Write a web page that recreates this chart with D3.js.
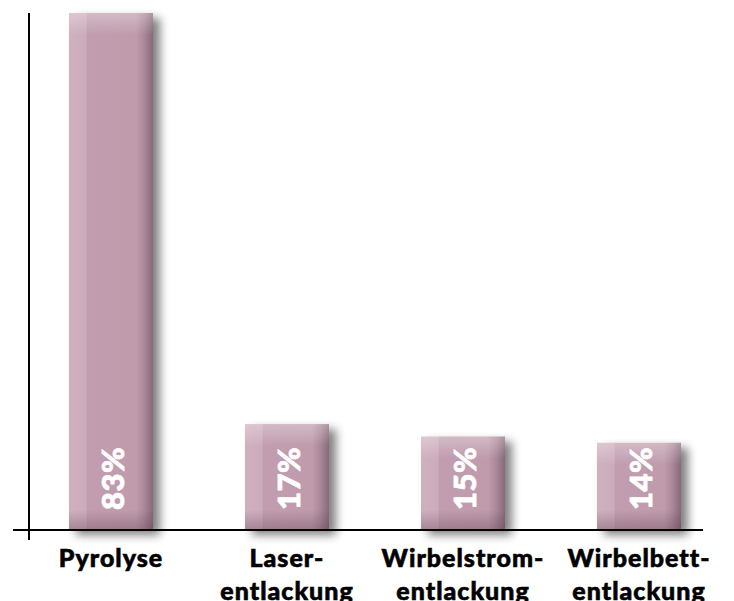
<!DOCTYPE html>
<html><head><meta charset="utf-8">
<script src="https://cdn.jsdelivr.net/npm/d3@7"></script>
<style>html,body{margin:0;padding:0;background:#fff;}svg{display:block;}</style>
</head><body>
<script>
const categories = [["Pyrolyse"], ["Laser-", "entlackung"], ["Wirbelstrom-", "entlackung"], ["Wirbelbett-", "entlackung"]];
const keys = ["Pyrolyse", "Laser", "Wirbelstrom", "Wirbelbett"];
const values = [83, 17, 15, 14];
const valueLabels = ["83%", "17%", "15%", "14%"];

const W = 734, H = 601;
const svg = d3.select("body").append("svg").attr("width", W).attr("height", H);
const defs = svg.append("defs");

const x = d3.scaleBand().domain(keys).range([23, 727]).paddingInner(0.5227).paddingOuter(0.2614);
const y = d3.scaleLinear().domain([0, 83]).range([530, 13]);

// shadow filter
const f = defs.append("filter").attr("id", "sh").attr("x", "-30%").attr("y", "-10%").attr("width", "160%").attr("height", "130%");
f.append("feGaussianBlur").attr("in", "SourceAlpha").attr("stdDeviation", 5).attr("result", "b");
f.append("feOffset").attr("in", "b").attr("dx", 7).attr("dy", 5).attr("result", "o");
f.append("feComponentTransfer").attr("in", "o").attr("result", "o2")
  .append("feFuncA").attr("type", "linear").attr("slope", 0.5);
const m = f.append("feMerge");
m.append("feMergeNode").attr("in", "o2");
m.append("feMergeNode").attr("in", "SourceGraphic");

// horizontal gradient
const gh = defs.append("linearGradient").attr("id", "gh").attr("x1", 0).attr("x2", 1).attr("y1", 0).attr("y2", 0);
[[0, "#cfb0bf"], [0.2, "#cdacbb"], [0.22, "#c19daf"], [0.8, "#bf9bac"], [0.9, "#a98797"], [1, "#86697a"]]
  .forEach(([o, c]) => gh.append("stop").attr("offset", o).attr("stop-color", c));

const bars = svg.append("g");
keys.forEach((k, i) => {
  const bx = x(k), bw = x.bandwidth(), by = y(values[i]), bh = y(0) - y(values[i]);
  const g = bars.append("g");
  g.append("rect").attr("x", bx).attr("y", by).attr("width", bw).attr("height", bh)
    .attr("fill", "url(#gh)").attr("filter", "url(#sh)");
  const gid = "gt" + i;
  const gt = defs.append("linearGradient").attr("id", gid).attr("gradientUnits", "userSpaceOnUse")
    .attr("x1", 0).attr("x2", 0).attr("y1", by).attr("y2", by + 22);
  gt.append("stop").attr("offset", 0).attr("stop-color", "#fff").attr("stop-opacity", 0.3);
  gt.append("stop").attr("offset", 1).attr("stop-color", "#fff").attr("stop-opacity", 0);
  g.append("rect").attr("x", bx).attr("y", by).attr("width", bw).attr("height", 22).attr("fill", `url(#${gid})`);
  const bid = "gb" + i;
  const gb = defs.append("linearGradient").attr("id", bid).attr("gradientUnits", "userSpaceOnUse")
    .attr("x1", 0).attr("x2", 0).attr("y1", y(0) - 20).attr("y2", y(0));
  gb.append("stop").attr("offset", 0).attr("stop-color", "#5a3a4a").attr("stop-opacity", 0);
  gb.append("stop").attr("offset", 1).attr("stop-color", "#5a3a4a").attr("stop-opacity", 0.35);
  g.append("rect").attr("x", bx).attr("y", y(0) - 20).attr("width", bw).attr("height", 20).attr("fill", `url(#${bid})`);
  g.append("text")
    .attr("transform", `translate(${bx + bw / 2 + 1},${y(0) - 20}) rotate(-90)`)
    .attr("text-anchor", "start").attr("dominant-baseline", "central")
    .attr("font-family", "Lato").attr("font-weight", 900).attr("font-size", 31)
    .attr("letter-spacing", 0.5)
    .attr("stroke", "#fff").attr("stroke-width", 0.8)
    .attr("fill", "#fff").text(valueLabels[i]);
});

// axes
svg.append("line").attr("x1", 13).attr("x2", 703).attr("y1", y(0)).attr("y2", y(0)).attr("stroke", "#000").attr("stroke-width", 2);
svg.append("line").attr("x1", 29).attr("x2", 29).attr("y1", y(83)).attr("y2", 540).attr("stroke", "#000").attr("stroke-width", 2);

// category labels
keys.forEach((k, i) => {
  const t = svg.append("text").attr("text-anchor", "middle")
    .attr("font-family", "Lato").attr("font-weight", 900).attr("font-size", 25)
    .attr("letter-spacing", 1).attr("fill", "#000")
    .attr("stroke", "#000").attr("stroke-width", 0.6);
  categories[i].forEach((line, j) => {
    t.append("tspan").attr("x", x(k) + x.bandwidth() / 2).attr("y", 567 + j * 33).text(line);
  });
});
</script>
</body></html>
